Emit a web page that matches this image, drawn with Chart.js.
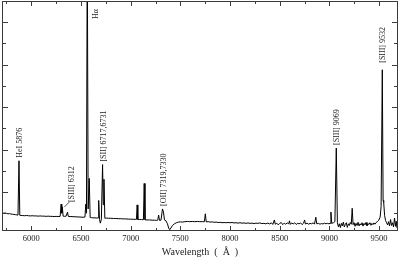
<!DOCTYPE html>
<html>
<head>
<meta charset="utf-8">
<script src="https://cdn.jsdelivr.net/npm/chart.js@4.4.1/dist/chart.umd.min.js"></script>
<style>
  body { margin: 0; background: #fff; }
</style>
</head>
<body>
<canvas id="spec" width="399" height="258"></canvas>
<script>
// spectrum, flux in arbitrary units
var wavelength = [
  5705,5720,5735,5750,5765,5780,5795,5810,5825,5840,5855,5866,5876,5884,5895,5910,5930,5950,5970,5990,
  6010,6030,6050,6070,6090,6110,6130,6150,6170,6190,6210,6230,6250,6270,6290,6300,6306,6312,6320,6335,6350,6364,6372,6390,
  6410,6430,6450,6470,6490,6510,6530,6540,6548,6555,6563,6572,6583,6592,6605,6620,6640,6660,6672,6678,6686,6695,6705,6717,6724,6731,6740,
  6755,6775,6800,6825,6850,6875,6900,6925,6950,6975,7000,7025,7045,7058,7065,7072,7090,7110,7128,7136,
  7144,7165,7190,7215,7240,7262,7272,7281,7290,7305,7320,7330,7340,7355,7370,7382,7393,7405,7420,7440,7460,7480,7500,
  7520,7545,7570,7595,7620,7645,7670,7695,7720,7742,7751,7760,7780,7800,7820,7840,7860,7880,7900,7920,
  7940,7960,7980,8000,8020,8040,8060,8080,8100,8120,8140,8160,8180,8200,8220,8240,8260,8280,8300,8320,8340,8360,8380,8400,
  8415,8430,8446,8455,8470,8485,8500,8515,8530,8545,8560,8575,8590,8598,8606,8620,8635,8650,8665,8680,
  8695,8710,8725,8740,8750,8758,8775,8790,8805,8820,8835,8850,8863,8872,8890,8905,8920,8935,8950,8965,8980,8995,9007,9015,9023,9040,9055,
  9069,9080,9090,9100,9110,9120,9130,9140,9150,9160,9170,9180,9190,9200,9210,9220,9229,9238,9248,9258,
  9268,9278,9288,9298,9308,9318,9328,9338,9348,9358,9368,9378,9388,9398,9408,9418,9428,9438,9448,9458,
  9470,9482,9495,9510,9520,9532,9540,9546,9555,9565,9575,9585,9595,9605,9615,9625,9635,9645,9655,9665,9672,9680,9688
];
var flux = [
  1.02,1.00,1.01,0.99,0.97,0.98,0.96,0.95,0.94,0.93,0.92,0.91,3.47,0.90,0.89,0.89,0.88,0.89,0.88,0.87,
  0.88,0.87,0.87,0.86,0.87,0.86,0.86,0.85,0.86,0.85,0.85,0.84,0.85,0.84,0.85,1.43,1.00,1.30,0.86,0.85,0.86,1.05,0.85,0.84,
  0.84,0.83,0.83,0.82,0.82,0.81,0.81,0.82,1.42,1.00,14.0,1.20,2.64,0.80,0.79,0.78,0.78,0.77,0.78,1.60,0.70,0.53,0.72,3.29,1.40,2.60,0.76,
  0.77,0.76,0.76,0.75,0.75,0.74,0.74,0.73,0.73,0.72,0.72,0.71,0.71,0.71,1.39,0.70,0.70,0.70,0.69,2.40,
  0.69,0.68,0.68,0.67,0.67,0.66,0.67,0.91,0.66,0.67,1.20,1.05,0.68,0.64,0.50,0.30,0.22,0.30,0.42,0.50,0.55,0.58,0.59,
  0.58,0.60,0.61,0.60,0.61,0.60,0.61,0.60,0.60,0.60,0.97,0.59,0.60,0.58,0.59,0.57,0.58,0.56,0.57,0.55,
  0.56,0.55,0.56,0.55,0.56,0.54,0.55,0.53,0.55,0.53,0.54,0.52,0.54,0.52,0.53,0.51,0.53,0.52,0.54,0.51,0.52,0.50,0.53,0.49,
  0.55,0.47,0.68,0.48,0.53,0.45,0.52,0.56,0.46,0.53,0.48,0.54,0.50,0.64,0.47,0.54,0.49,0.55,0.47,0.52,
  0.50,0.54,0.46,0.53,0.68,0.49,0.53,0.48,0.52,0.50,0.54,0.49,0.81,0.50,0.52,0.48,0.51,0.49,0.53,0.50,0.52,0.50,0.52,1.05,0.52,0.55,0.60,
  4.07,0.55,0.36,0.50,0.32,0.52,0.40,0.58,0.35,0.47,0.55,0.33,0.50,0.42,0.56,0.48,1.23,0.46,0.55,0.38,
  0.52,0.42,0.57,0.40,0.50,0.44,0.55,0.39,0.52,0.45,0.56,0.41,0.50,0.47,0.55,0.43,0.52,0.46,0.54,0.48,
  0.56,0.60,0.66,0.81,1.30,7.76,1.60,1.51,0.90,0.65,0.55,0.45,0.60,0.40,0.70,0.42,0.55,0.35,0.77,0.38,0.62,0.30,0.85
];

var xTicks = [6000, 6500, 7000, 7500, 8000, 8500, 9000, 9500];
var xMinorTicks = [5750, 6250, 6750, 7250, 7750, 8250, 8750, 9250];
var yTicks = [1, 2, 3, 4, 5, 6, 7, 8, 9, 10];

var lineNames = ['HeI 5876', '[SIII] 6312', 'H\u03b1', '[SII] 6717,6731', '[OII] 7319,7330', '[SIII] 9069', '[SIII] 9532'];
var lineWaves = [5876, 6312, 6563, 6717, 7320, 9069, 9532];

// where each label sits relative to its line (px)
var labelLayout = [
  {dx: 1, gap: 3},
  {dx: 10, gap: 2, leader: true},
  {dx: 9, top: 18},
  {dx: 1, gap: 3},
  {dx: 1, gap: 3},
  {dx: 1, gap: 3},
  {dx: 1, gap: 7}
];

var points = wavelength.map(function (w, i) { return {x: w, y: flux[i]}; });

//------------------------frame + inward ticks------------------------
var frameTicks = {
  id: 'frameTicks',
  afterDatasetsDraw: function (chart) {
    var ctx = chart.ctx, a = chart.chartArea, x = chart.scales.x, y = chart.scales.y;
    ctx.save();
    ctx.strokeStyle = '#3c3c3c';
    ctx.lineWidth = 1;
    ctx.strokeRect(a.left + 0.5, a.top + 0.5, a.right - a.left - 1, a.bottom - a.top - 1);
    ctx.beginPath();
    function xt(v, len) {
      var px = Math.round(x.getPixelForValue(v)) + 0.5;
      ctx.moveTo(px, a.bottom); ctx.lineTo(px, a.bottom - len);
      ctx.moveTo(px, a.top); ctx.lineTo(px, a.top + len);
    }
    xTicks.forEach(function (v) { xt(v, 5); });
    xMinorTicks.forEach(function (v) { xt(v, 3); });
    yTicks.forEach(function (v) {
      var py = Math.round(y.getPixelForValue(v)) + 0.5;
      var len = v % 2 === 0 ? 6 : 4;
      ctx.moveTo(a.left, py); ctx.lineTo(a.left + len, py);
      ctx.moveTo(a.right, py); ctx.lineTo(a.right - len, py);
    });
    ctx.stroke();
    ctx.restore();
  }
};

//------------------------line identifications------------------------
var lineLabels = {
  id: 'lineLabels',
  afterDatasetsDraw: function (chart) {
    var ctx = chart.ctx, a = chart.chartArea, x = chart.scales.x, y = chart.scales.y;
    ctx.save();
    ctx.font = '8px "Liberation Serif", "Times New Roman", serif';
    ctx.fillStyle = '#222';
    ctx.strokeStyle = '#222';
    ctx.lineWidth = 0.8;
    ctx.textAlign = 'left';
    ctx.textBaseline = 'middle';
    lineNames.forEach(function (name, k) {
      var w = lineWaves[k], lay = labelLayout[k];
      var peak = -Infinity;
      wavelength.forEach(function (wl, i) {
        if (Math.abs(wl - w) <= 14 && flux[i] > peak) peak = flux[i];
      });
      var lx = x.getPixelForValue(w);
      var py = y.getPixelForValue(Math.min(peak, y.max));
      var tx = lx + lay.dx;
      var bottom = lay.top !== undefined ? a.top + lay.top : py - lay.gap;
      if (lay.leader) {
        ctx.beginPath();
        ctx.moveTo(lx + 2, py + 3);
        ctx.lineTo(tx - 3, bottom);
        ctx.stroke();
      }
      ctx.save();
      ctx.translate(tx, bottom);
      ctx.rotate(-Math.PI / 2);
      ctx.fillText(name, 0, 0);
      ctx.restore();
    });
    ctx.restore();
  }
};

new Chart(document.getElementById('spec'), {
  type: 'line',
  data: {
    datasets: [{
      data: points,
      borderColor: '#000',
      borderWidth: 1,
      pointRadius: 0,
      tension: 0,
      fill: false
    }]
  },
  options: {
    responsive: false,
    animation: false,
    events: [],
    layout: {padding: {left: 2, right: 1, top: 1, bottom: 0}},
    plugins: {legend: {display: false}, tooltip: {enabled: false}},
    scales: {
      x: {
        type: 'linear',
        min: 5705,
        max: 9690,
        afterBuildTicks: function (s) { s.ticks = xTicks.map(function (v) { return {value: v}; }); },
        grid: {display: false, drawTicks: false},
        border: {display: false},
        ticks: {
          padding: 3,
          color: '#222',
          maxRotation: 0,
          font: {family: '"Liberation Serif", serif', size: 8.5, lineHeight: 1.2},
          callback: function (v) { return String(v); }
        },
        title: {
          display: true,
          text: 'Wavelength\u2002(\u2002\u00c5\u2002)',
          color: '#222',
          padding: {top: 0, bottom: 0},
          font: {family: '"Liberation Serif", serif', size: 10, lineHeight: 1.08}
        }
      },
      y: {
        type: 'linear',
        min: 0.16,
        max: 11,
        display: false
      }
    }
  },
  plugins: [frameTicks, lineLabels]
});
</script>
</body>
</html>
